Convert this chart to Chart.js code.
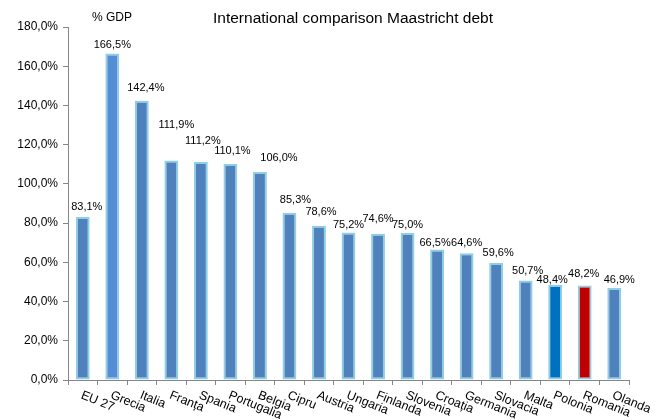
<!DOCTYPE html>
<html>
<head>
<meta charset="utf-8">
<script src="https://cdn.jsdelivr.net/npm/chart.js@4"></script>
<style>
  body { margin: 0; background: #fff; }
  #wrap { width: 668px; height: 420px; position: relative; }
</style>
</head>
<body>
<div id="wrap"><canvas id="myChart"></canvas></div>
<script>
const tari = ['EU 27', 'Grecia', 'Italia', 'Franța', 'Spania', 'Portugalia', 'Belgia', 'Cipru', 'Austria',
  'Ungaria', 'Finlanda', 'Slovenia', 'Croația', 'Germania', 'Slovacia', 'Malta', 'Polonia', 'Romania', 'Olanda'];
const datorie = [83.1, 166.5, 142.4, 111.9, 111.2, 110.1, 106.0, 85.3, 78.6, 75.2, 74.6, 75.0, 66.5, 64.6, 59.6, 50.7, 48.4, 48.2, 46.9];
const culori = tari.map(t => {
  if (t === 'Grecia') return '#558ED5';
  if (t === 'Polonia') return '#0070C0';
  if (t === 'Romania') return '#C00000';
  return '#4F81BD';
});

// etichetele au fost mutate manual in original (dx, distanta deasupra barei)
const eticDx = [4, 0, 4, 5, 2, 2, 19, 6, 2, 0, 0, 0, -2, 0, 2, 2, -3, -1, 5];
const eticSus = [7, 5, 10, 33, 18, 10, 11, 10, 11, 5, 12, 5, 4, 7, 7, 7, 2, 8, 5];

const FONT = '"Liberation Sans", Arial, sans-serif';
const fmt = v => v.toFixed(1).replace('.', ',') + '%';

const textePlugin = {
  id: 'texte',
  afterDraw(chart) {
    const ctx = chart.ctx;
    const x = chart.scales.x;
    const y = chart.scales.y;
    const meta = chart.getDatasetMeta(0);
    ctx.save();
    ctx.fillStyle = '#000';

    ctx.font = '11px ' + FONT;
    ctx.textAlign = 'center';
    ctx.textBaseline = 'alphabetic';
    meta.data.forEach((bar, i) => {
      ctx.fillText(fmt(datorie[i]), bar.x + eticDx[i], bar.y - eticSus[i]);
    });

    ctx.font = '12.5px ' + FONT;
    ctx.textAlign = 'left';
    ctx.textBaseline = 'top';
    tari.forEach((t, i) => {
      const px = x.getPixelForValue(i);
      ctx.save();
      ctx.translate(px + 1, y.bottom + 9);
      ctx.rotate(22 * Math.PI / 180);
      ctx.fillText(t, 0, 0);
      ctx.restore();
    });

    ctx.textBaseline = 'middle';
    ctx.textAlign = 'center';
    ctx.font = '15.5px ' + FONT;
    ctx.fillText('International comparison Maastricht debt', 353, 19);
    ctx.font = '12px ' + FONT;
    ctx.fillText('% GDP', 112, 18);
    ctx.restore();
  }
};

const canvas = document.getElementById('myChart');
const chart = new Chart(canvas.getContext('2d'), {
  type: 'bar',
  data: {
    labels: tari,
    datasets: [{
      data: datorie,
      backgroundColor: culori,
      borderColor: '#8ECFE3',
      borderWidth: 2,
      borderSkipped: false,
      barPercentage: 0.47,
      categoryPercentage: 1
    }]
  },
  options: {
    responsive: true,
    maintainAspectRatio: false,
    animation: false,
    layout: { padding: { top: 27, right: 39, left: 0, bottom: 0 } },
    plugins: { legend: { display: false }, tooltip: { enabled: false } },
    scales: {
      x: {
        grid: { display: true, drawOnChartArea: false, offset: true, tickLength: 5, color: '#868686' },
        border: { color: '#868686' },
        ticks: { display: false },
        afterFit(s) { s.height = 40; }
      },
      y: {
        min: 0,
        max: 180,
        grid: { drawOnChartArea: false, tickLength: 5, color: '#868686' },
        border: { color: '#868686' },
        ticks: {
          stepSize: 20,
          color: '#000',
          padding: 5,
          font: { family: FONT, size: 12 },
          callback: v => fmt(v)
        },
        afterFit(s) { s.width = 68; }
      }
    }
  },
  plugins: [textePlugin]
});
</script>
</body>
</html>
